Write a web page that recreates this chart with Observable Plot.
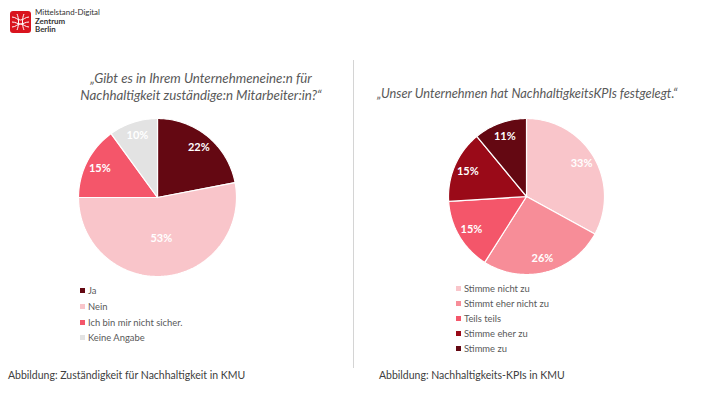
<!DOCTYPE html>
<html>
<head>
<meta charset="utf-8">
<script src="https://cdn.jsdelivr.net/npm/d3@7"></script>
<script src="https://cdn.jsdelivr.net/npm/@observablehq/plot@0.6"></script>
<style>
  html, body { margin: 0; padding: 0; background: #fff; }
  #page { position: relative; width: 710px; height: 399px; overflow: hidden; font-family: Lato, "Open Sans", sans-serif; }
  .abs { position: absolute; }
  .title { font-style: italic; color: #595959; text-align: center; white-space: nowrap; }
  .legend { font-size: 9.4px; color: #595959; }
  .legend .item { display: flex; align-items: center; white-space: nowrap; }
  .legend .sw { width: 5px; height: 5px; margin-right: 3px; flex: none; }
  .caption { font-size: 10.5px; color: #404040; white-space: nowrap; }
  .logo-text { font-size: 7.9px; line-height: 8.6px; color: #333; }
</style>
</head>
<body>
<div id="page">
  <svg class="abs" style="left:10px;top:11px" width="21" height="22" viewBox="0 0 21 22">
    <rect x="0" y="0" width="21" height="22" rx="3" fill="#d9141e"/>
    <g fill="none" stroke="#fff" stroke-width="1">
      <path d="M2 6 C6 6, 7 9, 10.5 9 C14 9, 15 6, 19 6"/>
      <path d="M2 11 C6 11, 7 13, 10.5 13 C14 13, 15 11, 19 11"/>
      <path d="M2 16 C6 16, 7 13, 10.5 13 C14 13, 15 16, 19 16"/>
      <path d="M7 3 C9 7, 9 15, 7 19"/>
      <path d="M14 3 C12 7, 12 15, 14 19"/>
    </g>
  </svg>
  <div class="abs logo-text" style="left:35px;top:8px">
    <div>Mittelstand-Digital</div>
    <div style="font-weight:bold">Zentrum</div>
    <div style="font-weight:bold">Berlin</div>
  </div>

  <div class="abs title" id="titleL" style="left:51px;top:70px;width:300px;font-size:13.3px;line-height:17px"></div>
  <div class="abs title" id="titleR" style="left:377px;top:85px;width:300px;font-size:12.8px;line-height:16px"></div>

  <div class="abs" style="left:353px;top:60px;width:1px;height:308px;background:#d4d4d4"></div>

  <div class="abs" id="pieL" style="left:72px;top:112px"></div>
  <div class="abs" id="pieR" style="left:441px;top:111px"></div>

  <div class="abs legend" id="legL" style="left:80px;top:283px"></div>
  <div class="abs legend" id="legR" style="left:456px;top:281px"></div>

  <div class="abs caption" style="left:8px;top:369px">Abbildung: Zuständigkeit für Nachhaltigkeit in KMU</div>
  <div class="abs caption" style="left:379px;top:369px">Abbildung: Nachhaltigkeits-KPIs in KMU</div>
</div>
<script>
// ---- data ----
const titleLeft = ["„Gibt es in Ihrem Unternehmeneine:n für", "Nachhaltigkeit zuständige:n Mitarbeiter:in?“"];
const titleRight = ["„Unser Unternehmen hat NachhaltigkeitsKPIs festgelegt.“"];

const leftCategories = ["Ja", "Nein", "Ich bin mir nicht sicher.", "Keine Angabe"];
const leftValues = [22, 53, 15, 10];

const rightCategories = ["Stimme nicht zu", "Stimmt eher nicht zu", "Teils teils", "Stimme eher zu", "Stimme zu"];
const rightValues = [33, 26, 15, 15, 11];

// ---- styles ----
const leftColors = ["#640812", "#f9c5ca", "#f4566a", "#e3e3e3"];
const rightColors = ["#f9c5ca", "#f78d98", "#f4566a", "#9a0a18", "#640812"];

document.getElementById("titleL").innerHTML = titleLeft.map(t => `<div>${t}</div>`).join("");
document.getElementById("titleR").innerHTML = titleRight.map(t => `<div>${t}</div>`).join("");

function pieChart(cats, vals, colors, radius) {
  const total = d3.sum(vals);
  const arcs = d3.pie().sort(null).value(d => d)(vals);
  const pts = [];
  arcs.forEach((a, i) => {
    const c = cats[i];
    pts.push({c, x: 0, y: 0});
    const n = Math.max(2, Math.ceil((a.endAngle - a.startAngle) / 0.02));
    for (let k = 0; k <= n; k++) {
      const t = a.startAngle + (a.endAngle - a.startAngle) * k / n;
      pts.push({c, x: Math.sin(t), y: Math.cos(t)});
    }
    pts.push({c, x: 0, y: 0});
  });
  const labels = arcs.map((a, i) => {
    const m = (a.startAngle + a.endAngle) / 2;
    const f = vals[i] / total > 0.5 ? 0.52 : 0.82;
    return {x: f * Math.sin(m), y: f * Math.cos(m), label: vals[i] + "%"};
  });
  const size = 170;
  const pad = (size / 2) / radius;
  return Plot.plot({
    width: size, height: size, margin: 0,
    style: {fontFamily: "Lato", background: "transparent"},
    x: {domain: [-pad, pad], axis: null},
    y: {domain: [-pad, pad], axis: null},
    color: {domain: cats, range: colors},
    marks: [
      Plot.line(pts, {x: "x", y: "y", z: "c", fill: "c", stroke: "white", strokeWidth: 1.2, strokeLinejoin: "miter"}),
      Plot.text(labels, {x: "x", y: "y", text: "label", fill: "white", fontWeight: "bold", fontSize: 11})
    ]
  });
}

function legend(el, cats, colors, spacing) {
  el.innerHTML = cats.map((c, i) =>
    `<div class="item" style="height:${spacing}px"><span class="sw" style="background:${colors[i]}"></span>${c}</div>`).join("");
}

document.getElementById("pieL").appendChild(pieChart(leftCategories, leftValues, leftColors, 79));
document.getElementById("pieR").appendChild(pieChart(rightCategories, rightValues, rightColors, 78));
legend(document.getElementById("legL"), leftCategories, leftColors, 15.7);
legend(document.getElementById("legR"), rightCategories, rightColors, 15);
</script>
</body>
</html>
